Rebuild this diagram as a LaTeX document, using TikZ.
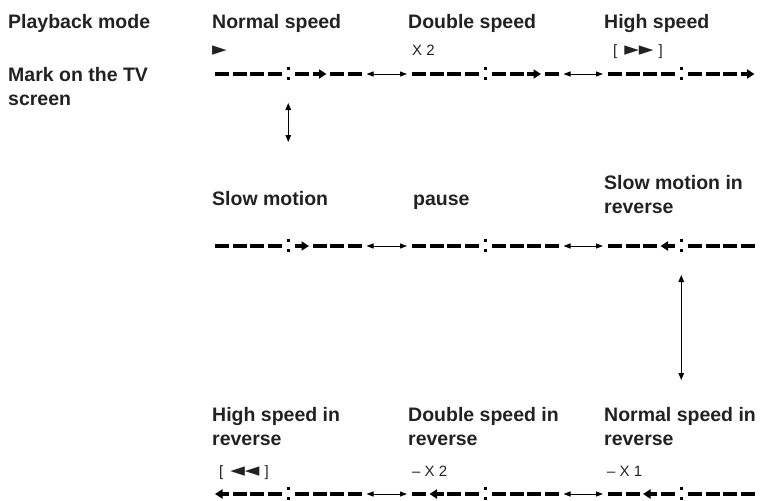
\documentclass[tikz,border=0pt]{standalone}
\usepackage{fontspec}
\setmainfont{Liberation Sans}
\newfontfamily\pointerfont{DejaVu Sans}
\usetikzlibrary{arrows.meta}
\definecolor{inkgrey}{RGB}{34,34,34}

% one piece of a track: 0 = plain dash, 1 = head to the right, 2 = head to the left
\newcommand{\trackunit}[3]{%
  \ifcase#3\relax
    \draw[dashbar] (#1,#2) -- ++(14,0);
  \or
    \draw[dashbar, -{Triangle[length=7.5pt,width=9pt]}] (#1,#2) -- ++(14,0);
  \or
    \draw[dashbar, {Triangle[length=7.5pt,width=9pt]}-] (#1,#2) -- ++(14,0);
  \fi}

% a whole track: name, left x, y, four pieces before the colon, four after it
\newcommand{\trackseg}[5]{%
  \node[trackbox] (#1) at (#2+73.25,#3) {};
  \foreach \k [count=\i from 0] in {#4} {\trackunit{#2+\i*17.5}{#3}{\k}}
  \foreach \k [count=\i from 0] in {#5} {\trackunit{#2+80+\i*17.5}{#3}{\k}}
  \fill (#2+71.8,#3-6.8) rectangle ++(3,3);
  \fill (#2+71.8,#3+3.3) rectangle ++(3,3);}

\begin{document}
\begin{tikzpicture}[x=1pt, y=-1pt,
  lbl/.style={font=\fontsize{19.5}{24}\selectfont\bfseries, text=inkgrey, anchor=base west, inner sep=0pt},
  sym/.style={font=\fontsize{15}{18}\selectfont, text=inkgrey, anchor=base west, inner sep=0pt},
  ptr/.style={font=\pointerfont\fontsize{19}{20}\selectfont},
  dashbar/.style={line width=3.8pt},
  trackbox/.style={rectangle, minimum width=146.5pt, minimum height=8pt, inner sep=0pt, outer sep=5pt},
  swaplink/.style={line width=1pt, {Triangle[length=7pt,width=5pt]}-{Triangle[length=7pt,width=5pt]}},
  modelink/.style={line width=1.3pt, {Triangle[length=7pt,width=5.5pt]}-{Triangle[length=7pt,width=5.5pt]}}]
  \useasboundingbox (0,0) rectangle (772,501);

  % Row headings (two-line labels sit on the baseline of their last line)
  \node[lbl] (modehead) at (8,28) {Playback mode};
  \node[lbl, align=left] (markhead) at (8,105) {Mark on the TV\\screen};

  % Forward modes
  \node[lbl] (nslbl) at (212,28) {Normal speed};
  \node[lbl] (dslbl) at (408,28) {Double speed};
  \node[lbl] (hslbl) at (604,28) {High speed};
  \node[sym, ptr] (nsmark) at (212,55) {►};
  \node[sym] (dsmark) at (412,55) {X 2};
  \node[sym] (hsmark) at (613,55) {[\hspace{7pt}{\pointerfont\fontsize{19}{20}\selectfont ►►}\hspace{5pt}]};
  \trackseg{nspeed}{215}{74}{0,0,0,0}{0,1,0,0}
  \trackseg{dspeed}{412}{74}{0,0,0,0}{0,0,1,0}
  \trackseg{hspeed}{608}{74}{0,0,0,0}{0,0,0,1}

  % Slow and paused
  \node[lbl] (slowlbl) at (212,205) {Slow motion};
  \node[lbl] (pauselbl) at (413,205) {pause};
  \node[lbl, align=left] (slowrevlbl) at (604,213) {Slow motion in\\reverse};
  \trackseg{slow}{215}{246}{0,0,0,0}{1,0,0,0}
  \trackseg{pause}{412}{246}{0,0,0,0}{0,0,0,0}
  \trackseg{slowrev}{608}{246}{0,0,0,2}{0,0,0,0}

  % Reverse modes
  \node[lbl, align=left] (hrevlbl) at (212,445) {High speed in\\reverse};
  \node[lbl, align=left] (drevlbl) at (408,445) {Double speed in\\reverse};
  \node[lbl, align=left] (nrevlbl) at (604,445) {Normal speed in\\reverse};
  \node[sym] (hrevmark) at (219,476) {[\hspace{7pt}{\pointerfont\fontsize{19}{20}\selectfont ◄◄}\hspace{5pt}]};
  \node[sym] (drevmark) at (412,476) {– X 2};
  \node[sym] (nrevmark) at (607,476) {– X 1};
  \trackseg{hrev}{215}{494}{2,0,0,0}{0,0,0,0}
  \trackseg{drev}{412}{494}{0,2,0,0}{0,0,0,0}
  \trackseg{nrev}{608}{494}{0,0,2,0}{0,0,0,0}

  % Switching between neighbours
  \draw[swaplink] (nspeed) -- (dspeed);
  \draw[swaplink] (dspeed) -- (hspeed);
  \draw[swaplink] (slow) -- (pause);
  \draw[swaplink] (pause) -- (slowrev);
  \draw[swaplink] (hrev) -- (drev);
  \draw[swaplink] (drev) -- (nrev);

  % Switching between rows
  \coordinate (v1top) at ([yshift=-29pt]nspeed.center);
  \coordinate (v1bot) at ([yshift=-68pt]nspeed.center);
  \draw[modelink] (v1top) -- (v1bot);
  \coordinate (v2top) at ([yshift=-29pt]slowrev.center);
  \coordinate (v2bot) at ([yshift=-134pt]slowrev.center);
  \draw[modelink] (v2top) -- (v2bot);
\end{tikzpicture}
\end{document}
